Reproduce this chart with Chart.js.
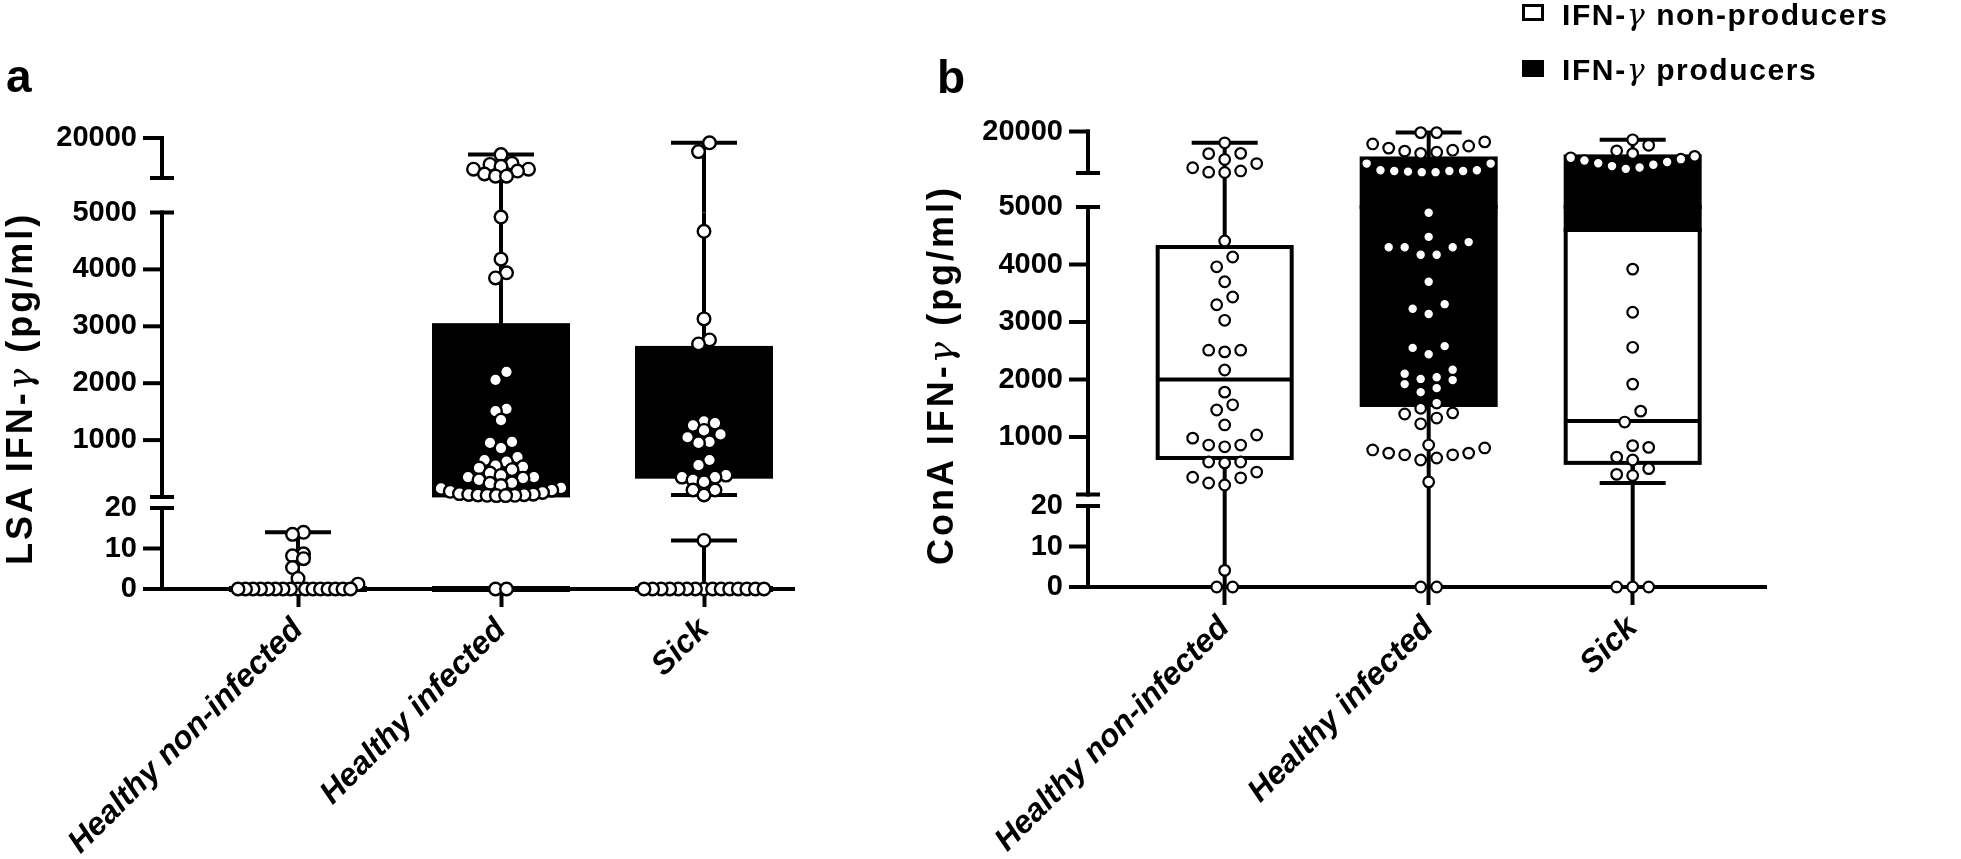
<!DOCTYPE html>
<html>
<head>
<meta charset="utf-8">
<script src="https://cdn.jsdelivr.net/npm/chart.js@4.4.1/dist/chart.umd.min.js"></script>
<style>
  html, body { margin: 0; padding: 0; background: #fff; }
  body { width: 1961px; height: 859px; position: relative; overflow: hidden;
         font-family: "Liberation Sans", Arial, sans-serif; color: #000; }
  canvas { position: absolute; top: 0; }
  #chartA { left: 0; }
  #chartB { left: 926px; }
  .panel { position: absolute; font-weight: bold; font-size: 46px; line-height: 46px; }
  .sw { position: absolute; width: 16px; height: 11px; border: 3.5px solid #000; }
  .lg { position: absolute; font-weight: bold; font-size: 30px; line-height: 30px;
        letter-spacing: 1.6px; white-space: nowrap; }
  .ytitle { position: absolute; top: 565px; font-weight: bold; font-size: 36px; line-height: 36px;
            letter-spacing: 3px; white-space: nowrap; transform: rotate(-90deg); transform-origin: 0 0; }
  .g { font-family: "DejaVu Serif", serif; font-style: italic; font-weight: normal; }
</style>
</head>
<body>
<canvas id="chartA" width="926" height="859"></canvas>
<canvas id="chartB" width="1035" height="859"></canvas>
<div class="panel" style="left:6px;top:53px">a</div>
<div class="panel" style="left:937px;top:54px">b</div>
<div class="ytitle" style="left:2px">LSA IFN-<span class="g">γ</span> (pg/ml)</div>
<div class="ytitle" style="left:923px">ConA IFN-<span class="g">γ</span> (pg/ml)</div>
<div class="sw" style="left:1522px;top:4px;background:#fff"></div>
<div class="lg" style="left:1562px;top:0px">IFN-<span class="g">γ</span> non-producers</div>
<div class="sw" style="left:1522px;top:60px;background:#000"></div>
<div class="lg" style="left:1562px;top:55px">IFN-<span class="g">γ</span> producers</div>
<script>
const categories = ['Healthy non-infected', 'Healthy infected', 'Sick'];
const yTickValues = [0, 10, 20, 1000, 2000, 3000, 4000, 5000, 20000];
const yTickLabels = ['0', '10', '20', '1000', '2000', '3000', '4000', '5000', '20000'];

// ---- panel a : LSA ----
const lsaNonProdPoints = [
  [14, 13.5, 8.7, 8.2, 7.5, 5.3, 2.6, 1.2, 0, 0, 0, 0, 0, 0, 0, 0, 0, 0, 0, 0, 0, 0, 0, 0],
  [0, 0],
  [12, 0, 0, 0, 0, 0, 0, 0, 0, 0, 0, 0, 0, 0, 0, 0]
];
const lsaProdPoints = [
  [],
  [13780, 10500, 10100, 9400, 8300, 8300, 7600, 6500, 5700, 5700,
   4920, 4180, 3940, 3850, 2200, 2060, 1550, 1510, 1350, 970, 950, 860, 700, 650, 620,
   550, 530, 510, 480, 420, 380, 350, 350, 330, 300, 250, 240, 200, 160, 150, 120,
   100, 80, 60, 50, 45, 40, 35, 30, 30, 25, 25],
  [18200, 14900, 4670, 3130, 2760, 2690, 1330, 1300, 1260, 1170, 1100, 1050, 970, 950,
   650, 560, 385, 350, 350, 300, 265, 123, 123, 35]
];
// [min, q1, median, q3, max]
const lsaNonProdStats = [[0, 0, 0, 0, 14], [0, 0, 0, 0, 0], [0, 0, 0, 0, 12]];
const lsaProdStats = [null, [25, 28, 480, 3020, 13780], [35, 357, 1000, 2620, 18200]];

// ---- panel b : ConA ----
const conaNonProdPoints = [
  [15900, 12100, 12000, 9900, 8400, 6900, 5750, 5300, 5200,
   4410, 4130, 3960, 3700, 3435, 3300, 3030, 2510, 2510, 2480, 2165, 1780, 1560, 1470,
   1210, 1035, 980, 860, 860, 830, 565, 565, 550, 390, 300, 290, 200, 165, 4.1, 0, 0],
  [],
  [3920, 3170, 2560, 1920, 1450, 1260, 850, 820, 650, 600, 450, 350, 330, 0, 0, 0]
];
const conaProdPoints = [
  [],
  [19600, 19600, 16250, 15500, 14750, 14000, 13250, 12900, 12500, 12100, 8400, 8400,
   6000, 6000, 5750, 5750, 5500, 5300, 5300, 5750,
   4900, 4480, 4390, 4300, 4300, 4300, 4170, 4170, 3700, 3310, 3230, 3140, 2580, 2550,
   2440, 2170, 2100, 2040, 2010, 1990, 1920, 1850, 1780, 1590, 1500, 1420, 1400, 1330,
   1230, 860, 810, 775, 720, 720, 690, 690, 635, 600, 220, 0, 0],
  [17000, 15000, 13000, 12000, 11000, 10500, 10000, 9500, 9000, 8500, 8000, 7500, 7000, 6500]
];
const conaNonProdStats = [[0, 635, 2000, 4304, 15900], null, [0, 550, 1280, 4600, 4600]];
const conaProdStats = [null, [0, 1557, 2600, 10250, 19600], [200, 4600, 8000, 11000, 17000]];

const FONT = '"Liberation Sans", Arial, sans-serif';

// broken axis: value -> axis units (one unit is one pixel above the zero line)
function makeSegs(bTop, mZero, m5000, tBot, tTop) {
  return [
    { lo: 0, hi: 20, v0: 0, v1: 20, u0: 0, u1: bTop, line: [0, bTop] },
    { lo: 20, hi: 5000, v0: 0, v1: 5000, u0: mZero, u1: m5000, line: [mZero, m5000] },
    { lo: 5000, hi: 20000, v0: 5000, v1: 20000, u0: tBot, u1: tTop, line: [tBot, tTop] }
  ];
}
function toAxis(segs, v) {
  const s = v <= 20 ? segs[0] : (v <= 5000 ? segs[1] : segs[2]);
  return s.u0 + (v - s.v0) / (s.v1 - s.v0) * (s.u1 - s.u0);
}

// row-binned scatter (Prism style): points of similar height share a row,
// spread from the centre outwards, squeezed when the row gets too wide
function rowSwarm(us, rowH, step, maxHalf) {
  const order = us.map((u, i) => i).sort((a, b) => us[a] - us[b]);
  const out = new Array(us.length).fill(0);
  let row = [];
  const flush = () => {
    const n = row.length;
    let s = step;
    if ((n - 1) * s / 2 > maxHalf) s = 2 * maxHalf / (n - 1);
    const slots = [];
    for (let k = 0; k < n; k++) slots.push((k - (n - 1) / 2) * s);
    slots.sort((a, b) => Math.abs(a) - Math.abs(b) || a - b);
    row.forEach((idx, k) => { out[idx] = slots[k]; });
    row = [];
  };
  let start = null;
  order.forEach(i => {
    if (start === null || us[i] - start > rowH) { if (row.length) flush(); start = us[i]; }
    row.push(i);
  });
  if (row.length) flush();
  return out;
}

function clipPieces(segs, lo, hi) {
  const res = [];
  segs.forEach(s => {
    const a = Math.max(lo, s.lo), b = Math.min(hi, s.hi);
    if (b > a || (lo === hi && lo >= s.lo && lo <= s.hi && a === b)) res.push([a, b]);
  });
  return res;
}

function makePanel(id, p) {
  const segs = p.segs;
  const datasets = [];
  categories.forEach((c, ci) => {
    const all = p.nonPoints[ci].concat(p.prodPoints[ci]);
    const us = all.map(v => toAxis(segs, v));
    const offs = rowSwarm(us, p.rowH, p.step, p.maxHalf);
    datasets.push({
      label: c,
      data: all.map((v, i) => ({ x: ci + offs[i] / p.pxPerUnit, y: us[i] })),
      pointRadius: p.r,
      pointBorderWidth: p.bw,
      pointBackgroundColor: '#fff',
      pointBorderColor: '#000',
      pointHoverRadius: p.r,
      clip: false
    });
  });

  const boxPlugin = {
    id: 'boxes' + id,
    beforeDatasetsDraw(chart) {
      const ctx = chart.ctx;
      const xs = chart.scales.x, ys = chart.scales.y;
      const py = v => ys.getPixelForValue(toAxis(segs, v));
      const pu = u => ys.getPixelForValue(u);
      const ax = chart.chartArea.left;
      const hline = (y, x1, x2) => { ctx.beginPath(); ctx.moveTo(x1, y); ctx.lineTo(x2, y); ctx.stroke(); };
      ctx.save();
      ctx.strokeStyle = '#000';
      ctx.lineCap = 'butt';
      ctx.lineWidth = 4;
      // y axis with breaks
      segs.forEach(s => {
        ctx.beginPath(); ctx.moveTo(ax, pu(s.line[0]) + 2); ctx.lineTo(ax, pu(s.line[1]) - 2); ctx.stroke();
      });
      [0, 10, 1000, 2000, 3000, 4000, 20000].forEach(v => hline(py(v), ax - 19, ax + 2));
      hline(pu(segs[0].u1), ax - 12, ax + 12);
      hline(pu(segs[1].u0), ax - 12, ax + 12);
      hline(pu(segs[1].u1), ax - 12, ax + 12);
      hline(pu(segs[2].u0), ax - 12, ax + 12);

      const hw = 67, cw = 33;
      categories.forEach((c, ci) => {
        const cx = xs.getPixelForValue(ci);
        const groups = [[p.nonStats[ci], '#fff'], [p.prodStats[ci], '#000']].filter(g => g[0]);
        // whiskers and caps
        groups.forEach(([st]) => {
          const [mn, q1, med, q3, mx] = st;
          [[mn, q1], [q3, mx]].forEach(([a, b]) => {
            clipPieces(segs, a, b).forEach(([lo, hi]) => {
              if (hi > lo) { ctx.beginPath(); ctx.moveTo(cx, py(lo)); ctx.lineTo(cx, py(hi)); ctx.stroke(); }
            });
          });
          if (mx > q3) hline(py(mx), cx - cw, cx + cw);
          if (mn < q1) hline(py(mn), cx - cw, cx + cw);
        });
        // boxes and medians
        groups.forEach(([st, fill]) => {
          const [mn, q1, med, q3, mx] = st;
          clipPieces(segs, q1, q3).forEach(([lo, hi]) => {
            let yTop = py(hi), yBot = py(lo);
            if (yBot - yTop < 2) { yTop -= 1; yBot += 1; }
            ctx.fillStyle = fill;
            ctx.fillRect(cx - hw, yTop, hw * 2, yBot - yTop);
            ctx.strokeRect(cx - hw, yTop, hw * 2, yBot - yTop);
          });
          if (med > q1 && med < q3) hline(py(med), cx - hw, cx + hw);
        });
      });
      ctx.restore();
    }
  };

  return new Chart(document.getElementById(id), {
    type: 'scatter',
    data: { datasets },
    plugins: [boxPlugin],
    options: {
      responsive: false,
      animation: false,
      devicePixelRatio: 1,
      layout: { padding: { top: p.top, left: 0, right: p.rightPad, bottom: 0 } },
      plugins: { legend: { display: false }, tooltip: { enabled: false } },
      scales: {
        x: {
          type: 'linear', min: p.xMin, max: p.xMax,
          afterBuildTicks: s => { s.ticks = [0, 1, 2].map(v => ({ value: v })); },
          afterFit: s => { s.height = p.xAxisH; },
          grid: { display: true, drawOnChartArea: false, drawTicks: true, tickLength: 18,
                  tickWidth: 4, tickColor: '#000', color: '#000' },
          border: { display: true, color: '#000', width: 4 },
          ticks: { autoSkip: false, minRotation: 45, maxRotation: 45, padding: 4, color: '#000',
                   font: { family: FONT, size: 32, weight: 'bold', style: 'italic' },
                   callback: (v, i) => categories[i] }
        },
        y: {
          type: 'linear', min: 0, max: p.uMax,
          afterBuildTicks: s => { s.ticks = yTickValues.map(v => ({ value: toAxis(segs, v) })); },
          afterFit: s => { s.width = 162; },
          grid: { display: false, drawTicks: false },
          border: { display: false },
          ticks: { autoSkip: false, padding: 25, color: '#000',
                   font: { family: FONT, size: 29, weight: 'bold' },
                   callback: (v, i) => yTickLabels[i] }
        }
      }
    }
  });
}

makePanel('chartA', {
  segs: makeSegs(81, 92, 376.5, 411, 451),
  uMax: 451, top: 138, xAxisH: 270, rightPad: 132,
  pxPerUnit: 203, xMin: -0.67, xMax: -0.67 + 632 / 203,
  nonPoints: lsaNonProdPoints, prodPoints: lsaProdPoints,
  nonStats: lsaNonProdStats, prodStats: lsaProdStats,
  r: 6.3, bw: 2.4, rowH: 9, step: 11, maxHalf: 60
});

makePanel('chartB', {
  segs: makeSegs(81, 92.5, 380, 414, 455.5),
  uMax: 455.5, top: 131.5, xAxisH: 272, rightPad: 195,
  pxPerUnit: 204, xMin: -0.67, xMax: -0.67 + 678 / 204,
  nonPoints: conaNonProdPoints, prodPoints: conaProdPoints,
  nonStats: conaNonProdStats, prodStats: conaProdStats,
  r: 5.3, bw: 2.2, rowH: 13, step: 16, maxHalf: 62
});
</script>
</body>
</html>
